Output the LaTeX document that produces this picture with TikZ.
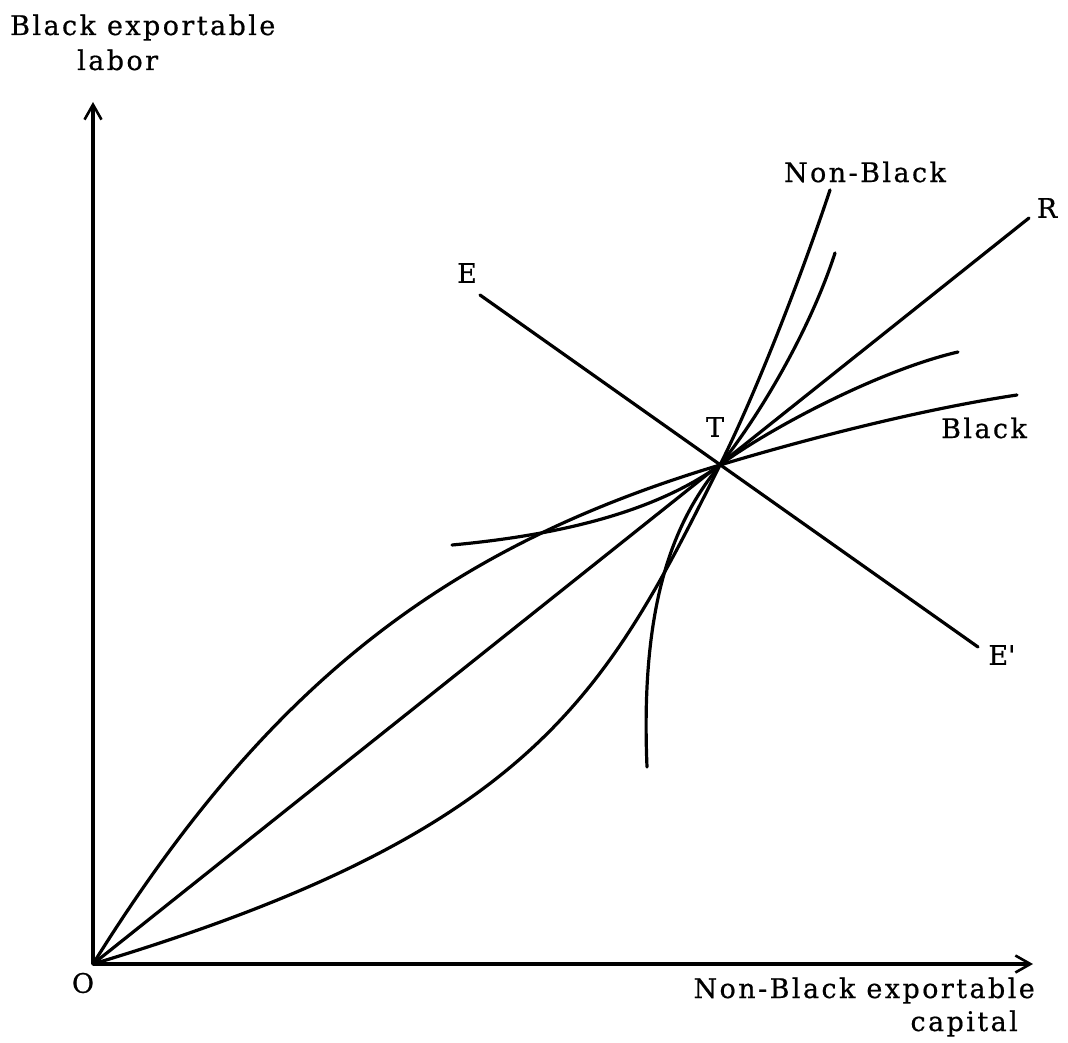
\documentclass[tikz,border=0pt]{standalone}
\usepackage{fontspec}
\setmainfont{DejaVu Serif}[LetterSpace=9,FakeBold=0.6]
\usetikzlibrary{arrows.meta}
\begin{document}
\begin{tikzpicture}[x=1pt,y=-1pt,
  curve/.style={line width=3.2pt, line cap=round, line join=round},
  axis/.style={line width=3.2pt, -{Straight Barb[length=15pt,width=17pt,line width=2.6pt]}},
  lbl/.style={font=\fontsize{27}{31}\selectfont, inner sep=0pt}]
\useasboundingbox (0,0) rectangle (1068,1043);
% key points
\coordinate (O) at (93,964);
\coordinate (T) at (720,465);
\coordinate (R) at (1029,218);
\coordinate (E) at (480,295);
\coordinate (Ep) at (978,647);
\coordinate (Ytop) at (93,102);
\coordinate (Xend) at (1033,964);
\coordinate (Bend) at (1017,395);
\coordinate (NBend) at (830,190);
\coordinate (I1a) at (452,545);
\coordinate (I1b) at (958,352);
\coordinate (I2a) at (647,767);
\coordinate (I2b) at (835,253);
% axes
\draw[axis] (O) -- (Ytop);
\draw[axis] (O) -- (Xend);
% ray OR and line EE'
\draw[curve] (O) -- (R);
\draw[curve] (E) -- (Ep);
% upper curve (Black)
\draw[curve] (O) .. controls (270,680) and (450,546) .. (T)
                 .. controls (820,435) and (930,408) .. (Bend);
% lower curve (Non-Black)
\draw[curve] (O) .. controls (536,831) and (606,693) .. (T)
                 .. controls (755,395) and (800,280) .. (NBend);
% isoquant 1
\draw[curve] (I1a) .. controls (560,535) and (655,512) .. (T)
                   .. controls (770,428) and (880,370) .. (I1b);
% isoquant 2
\draw[curve] (I2a) .. controls (640,600) and (675,520) .. (T)
                   .. controls (760,415) and (810,330) .. (I2b);
% labels
\node[lbl, anchor=base west] (ylab1) at (10,35) {Black exportable};
\node[lbl, anchor=base west] (ylab2) at (77,70) {labor};
\node[lbl] (Olab) at (83,983) {O};
\node[lbl, anchor=base east] (xlab1) at (1035,998) {Non-Black exportable};
\node[lbl, anchor=base east] (xlab2) at (1018,1031) {capital};
\node[lbl] (NBlab) at (865,172) {Non-Black};
\node[lbl] (Rlab) at (1047,208) {R};
\node[lbl] (Elab) at (467,273) {E};
\node[lbl] (Eplab) at (1002,655) {E\textquotesingle};
\node[lbl] (Tlab) at (715,427) {T};
\node[lbl] (Blab) at (984,428) {Black};
\end{tikzpicture}
\end{document}
